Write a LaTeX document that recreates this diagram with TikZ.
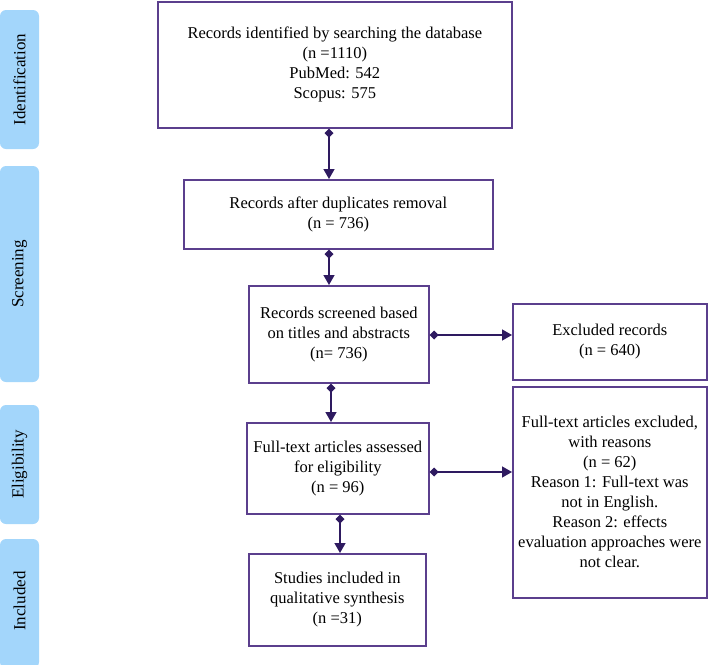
\documentclass[tikz,border=0pt]{standalone}
\usepackage{fontspec}
\setmainfont{Liberation Serif}
\usetikzlibrary{arrows.meta}
\definecolor{tabblue}{HTML}{A3D6FB}
\definecolor{boxpurple}{HTML}{5B3F8D}
\definecolor{linkpurple}{HTML}{2E1A60}
\tikzset{
  tab/.style={fill=tabblue, draw=none, rounded corners=6pt},
  tablabel/.style={rotate=90, font=\fontsize{17}{20}\selectfont, inner sep=0pt},
  flowbox/.style={draw=boxpurple, line width=1.6pt, fill=white, anchor=north west, inner sep=0pt,
    align=center, font=\fontsize{16.5}{20}\selectfont},
  link/.style={draw=linkpurple, line width=1.4pt, {Diamond[length=9pt,width=9pt]}-{Triangle[length=10pt,width=11pt]}}
}
\begin{document}
\begin{tikzpicture}[x=1pt,y=-1pt]
\useasboundingbox (0,0) rectangle (708,664);
% side tabs
\path[tab] (0,10) rectangle (39,149);
\node[tablabel] (tid) at (19.5,79.5) {Identification};
\path[tab] (0,166) rectangle (39,382);
\node[tablabel] (tsc) at (19.5,274) {Screening};
\path[tab] (0,405) rectangle (39,524);
\node[tablabel] (tel) at (19.5,464.5) {Eligibility};
\path[tab] (0,539) rectangle (39,668);
\node[tablabel] (tin) at (19.5,601) {Included};
% boxes
\node[flowbox, minimum width=354pt, minimum height=126pt] (b1) at (157,1)
  {Records identified by searching the database\\(n =1110)\\PubMed: 542\\Scopus: 575};
\node[flowbox, minimum width=309pt, minimum height=69pt] (b2) at (183,179)
  {Records after duplicates removal\\(n = 736)};
\node[flowbox, minimum width=180pt, minimum height=97pt] (b3) at (248,285)
  {Records screened based\\on titles and abstracts\\(n= 736)};
\node[flowbox, minimum width=194pt, minimum height=76pt] (ex) at (512,303)
  {Excluded records\\(n = 640)};
\node[flowbox, minimum width=182pt, minimum height=91pt] (b4) at (246,422)
  {Full-text articles assessed\\for eligibility\\(n = 96)};
\node[flowbox, minimum width=194pt, minimum height=211pt] (fx) at (512,386)
  {Full-text articles excluded,\\with reasons\\(n = 62)\\Reason 1: Full-text was\\not in English.\\Reason 2: effects\\evaluation approaches were\\not clear.};
\node[flowbox, minimum width=177pt, minimum height=92pt] (b5) at (248,553)
  {Studies included in\\qualitative synthesis\\(n =31)};
% connectors
\draw[link] (329,0 |- b1.south) -- (329,0 |- b2.north);
\draw[link] (329,0 |- b2.south) -- (329,0 |- b3.north);
\draw[link] (b3.east |- 0,335) -- (ex.west |- 0,335);
\draw[link] (331,0 |- b3.south) -- (331,0 |- b4.north);
\draw[link] (b4.east |- 0,472) -- (fx.west |- 0,472);
\draw[link] (340,0 |- b4.south) -- (340,0 |- b5.north);
\end{tikzpicture}
\end{document}
